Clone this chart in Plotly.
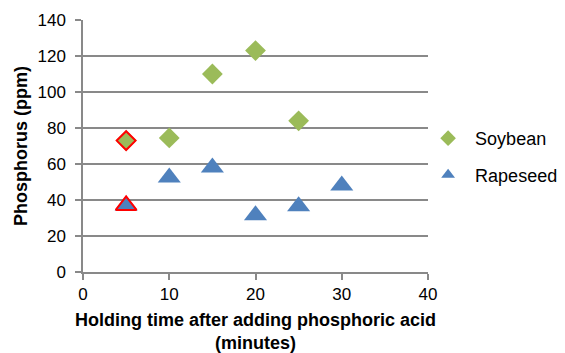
import plotly.graph_objects as go

soy_x = [5, 10, 15, 20, 25]
soy_y = [73, 74.5, 110, 123, 84]
rape_x = [5, 10, 15, 20, 25, 30]
rape_y = [37, 52.5, 58, 31.5, 36.5, 48]
x_ticks = [0, 10, 20, 30, 40]
y_ticks = [0, 20, 40, 60, 80, 100, 120, 140]
highlight_idx = 0

SOY = "#9BBB59"
RAPE = "#4F81BD"
GRID = "#898989"
FONT = "Liberation Sans, Arial, sans-serif"

fig = go.Figure()
fig.add_trace(go.Scatter(x=soy_x, y=soy_y, mode="markers", name="Soybean",
                         marker=dict(symbol="diamond", size=16, color=SOY, line=dict(width=0)),
                         legend="legend"))
fig.add_trace(go.Scatter(x=rape_x, y=rape_y, mode="markers", name="Rapeseed",
                         marker=dict(symbol="triangle-up", size=20, color=RAPE, line=dict(width=0)),
                         legend="legend2"))
fig.add_trace(go.Scatter(x=[soy_x[highlight_idx]], y=[soy_y[highlight_idx]], mode="markers",
                         showlegend=False,
                         marker=dict(symbol="diamond", size=14.5, color=SOY, line=dict(width=2, color="#FF0000"))))
fig.add_trace(go.Scatter(x=[rape_x[highlight_idx]], y=[rape_y[highlight_idx]], mode="markers",
                         showlegend=False,
                         marker=dict(symbol="triangle-up", size=18, color=RAPE, line=dict(width=2, color="#FF0000"))))

fig.update_layout(
    width=565, height=353,
    margin=dict(l=83, r=137, t=20, b=81, autoexpand=False),
    paper_bgcolor="white", plot_bgcolor="white",
    font=dict(family=FONT, size=18, color="#000000"),
    legend=dict(x=0.98, y=0.53, xanchor="left", yanchor="middle", xref="paper", yref="paper",
                bgcolor="rgba(0,0,0,0)", font=dict(size=18), itemwidth=44, itemsizing="constant"),
    legend2=dict(x=0.98, y=0.385, xanchor="left", yanchor="middle", xref="paper", yref="paper",
                 bgcolor="rgba(0,0,0,0)", font=dict(size=18), itemwidth=44, itemsizing="constant"),
    xaxis=dict(range=[0, 40], tickvals=x_ticks, ticktext=[str(v) for v in x_ticks],
               showgrid=False, zeroline=False, showline=True, linecolor=GRID, linewidth=1.5,
               ticks="outside", ticklen=6, tickcolor=GRID, tickwidth=1.5, automargin=False,
               tickfont=dict(size=17, color="#000000"),
               title=dict(text="<b>Holding time after adding phosphoric acid<br>(minutes)</b>",
                          font=dict(size=18, color="#000000"))),
    yaxis=dict(range=[0, 140], tickvals=y_ticks, ticktext=[str(v) for v in y_ticks],
               showgrid=True, gridcolor=GRID, gridwidth=1.5, zeroline=False,
               showline=True, linecolor=GRID, linewidth=1.5,
               ticks="outside", ticklen=6, tickcolor=GRID, tickwidth=1.5, automargin=False,
               ticklabelstandoff=6,
               tickfont=dict(size=17, color="#000000"),
               title=dict(text="<b>Phosphorus (ppm)</b>", font=dict(size=18, color="#000000"), standoff=5)),
)

fig.write_html("out.html")
